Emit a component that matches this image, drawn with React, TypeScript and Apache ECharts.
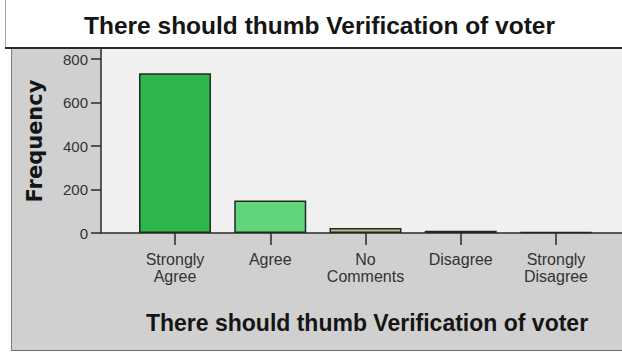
import { useEffect, useRef } from "react";
import * as echarts from "echarts";

// Response categories (line breaks as printed under each bar)
const categories = ["Strongly\nAgree", "Agree", "No\nComments", "Disagree", "Strongly\nDisagree"];
// Number of respondents per category
const frequencies = [735, 150, 23, 10, 4];
// Fill colour of each bar
const barColors = ["#2db64b", "#62d57c", "#bdbd90", "#6a6042", "#4a4a46"];
// Frequency axis tick values
const yTicks = [0, 200, 400, 600, 800];
const categoryIndex = [0, 1, 2, 3, 4];

const chartTitle = "There should thumb Verification of voter";
const yAxisTitle = "Frequency";

const plainFont = '"Liberation Sans", Arial, sans-serif';

export default function App() {
  const ref = useRef<HTMLDivElement>(null);

  useEffect(() => {
    if (!ref.current) return;
    const chart = echarts.init(ref.current, null, { renderer: "svg" });
    chart.setOption({
      animation: false,
      backgroundColor: "#ffffff",
      title: {
        text: chartTitle,
        left: 84,
        top: 13,
        padding: 0,
        textStyle: {
          fontFamily: plainFont,
          fontWeight: "bold",
          fontSize: 24.5,
          color: "#151515",
        },
      },
      graphic: [
        {
          type: "rect",
          z: -10,
          shape: { x: 11, y: 48, width: 611, height: 302 },
          style: { fill: "#d0d0d0" },
        },
        {
          type: "line",
          z: -9,
          shape: { x1: 5.5, y1: 0, x2: 5.5, y2: 48 },
          style: { stroke: "#a8a8a8", lineWidth: 1 },
        },
        {
          type: "line",
          z: -9,
          shape: { x1: 11.5, y1: 48, x2: 11.5, y2: 350 },
          style: { stroke: "#7a7a7a", lineWidth: 1 },
        },
        {
          type: "line",
          z: -9,
          shape: { x1: 11, y1: 350.5, x2: 622, y2: 350.5 },
          style: { stroke: "#6a6a6a", lineWidth: 1 },
        },
        {
          type: "line",
          z: 10,
          shape: { x1: 5, y1: 48, x2: 622, y2: 48 },
          style: { stroke: "#2a2a2a", lineWidth: 2 },
        },
      ],
      grid: {
        left: 101,
        right: 0,
        top: 49,
        bottom: 119,
        show: true,
        backgroundColor: "#f0f0f0",
        borderWidth: 0,
        containLabel: false,
        outerBoundsMode: "none",
      },
      xAxis: {
        type: "value",
        min: -0.777,
        max: 4.693,
        name: chartTitle,
        nameLocation: "middle",
        nameGap: 78,
        nameTextStyle: {
          fontFamily: plainFont,
          fontWeight: "bold",
          fontSize: 23,
          color: "#151515",
          padding: [0, 0, 0, 11],
        },
        splitLine: { show: false },
        axisLine: { show: true, onZero: false, lineStyle: { color: "#2a2a2a", width: 1.5 } },
        axisTick: {
          show: true,
          customValues: categoryIndex,
          length: 12,
          lineStyle: { color: "#2a2a2a", width: 1.5 },
        },
        axisLabel: {
          customValues: categoryIndex,
          margin: 18,
          fontFamily: plainFont,
          fontSize: 16,
          lineHeight: 17,
          color: "#333333",
          formatter: (v: number) => categories[Math.round(v)] ?? "",
        },
      },
      yAxis: {
        type: "value",
        min: 0,
        max: 846,
        name: yAxisTitle,
        nameLocation: "middle",
        nameGap: 56,
        nameTextStyle: {
          fontFamily: '"DejaVu Sans", sans-serif',
          fontWeight: "bold",
          fontSize: 21,
          color: "#151515",
        },
        splitLine: { show: false },
        axisLine: { show: true, onZero: false, lineStyle: { color: "#2a2a2a", width: 1.5 } },
        axisTick: {
          show: true,
          customValues: yTicks,
          length: 10,
          lineStyle: { color: "#2a2a2a", width: 1.5 },
        },
        axisLabel: {
          customValues: yTicks,
          margin: 13,
          fontFamily: plainFont,
          fontSize: 15,
          color: "#333333",
        },
      },
      series: [
        {
          type: "bar",
          barWidth: 72,
          data: frequencies.map((v, i) => ({
            value: [categoryIndex[i], v],
            itemStyle: { color: barColors[i] },
          })),
          itemStyle: { borderColor: "#1f2a20", borderWidth: 1.5 },
        },
      ],
    });
    return () => chart.dispose();
  }, []);

  return (
    <div
      ref={ref}
      style={{ position: "fixed", left: 0, top: 0, width: 622, height: 352 }}
    />
  );
}
